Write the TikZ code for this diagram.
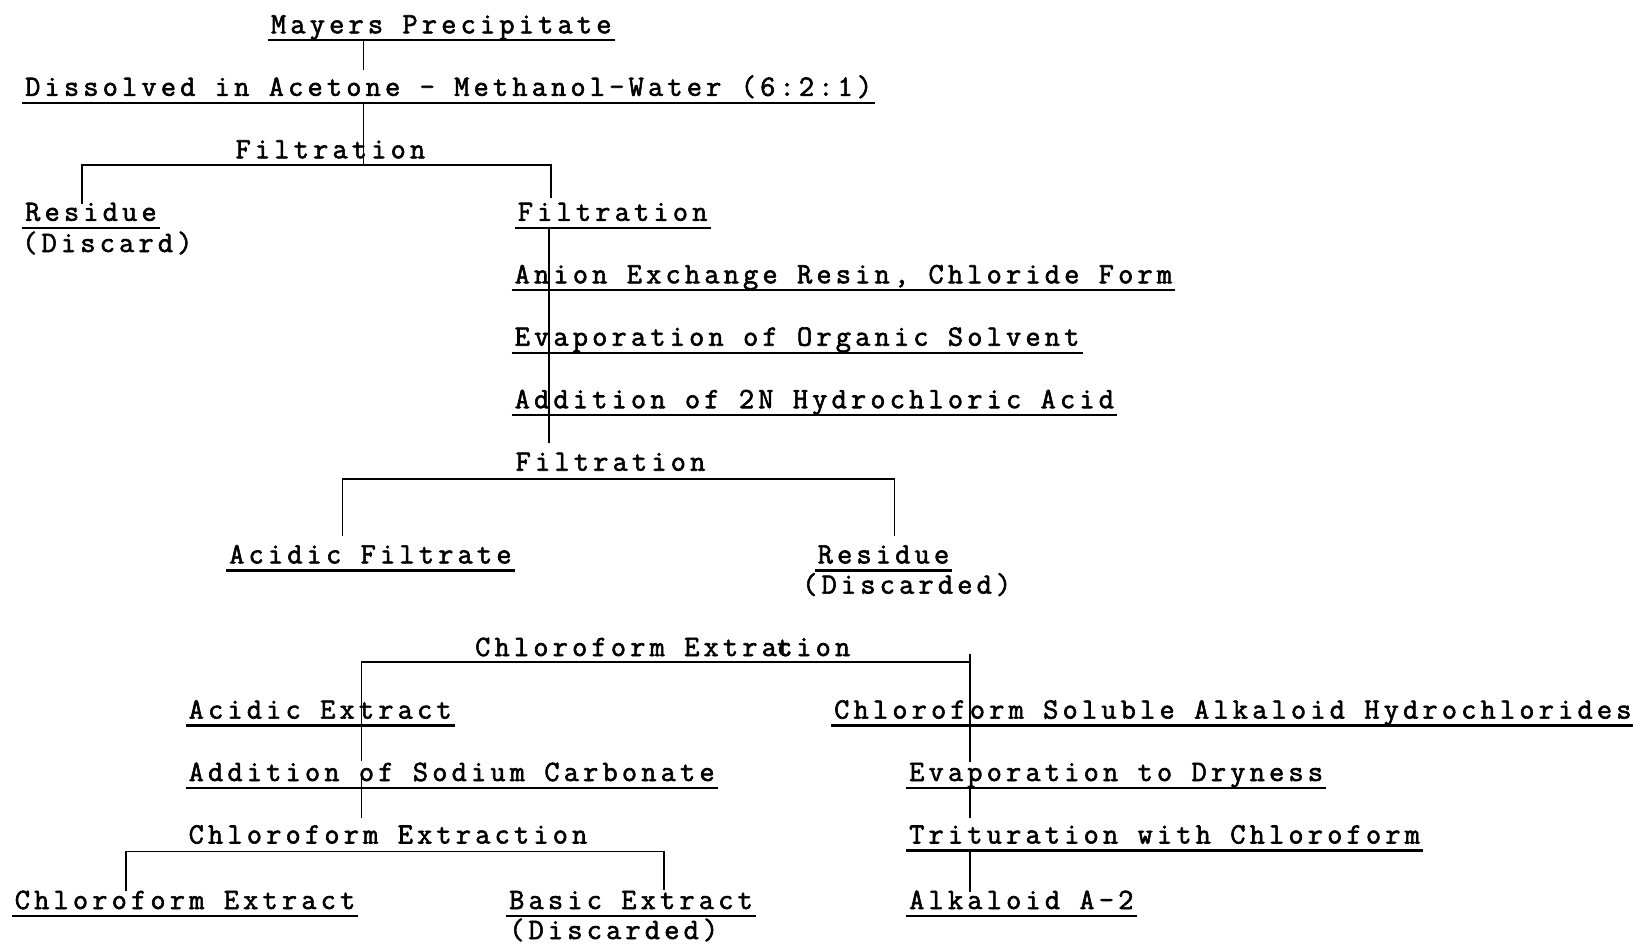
\documentclass[tikz,border=0pt]{standalone}
\usepackage{fontspec}
\setmonofont{Latin Modern Mono}[LetterSpace=14.2,FakeBold=2]
\usetikzlibrary{calc}
\newcommand\ulnode[1]{\draw[ul] ($(#1.base west)+(-3,-7)$) -- ($(#1.base east)+(3,-7)$);}
\begin{document}
\begin{tikzpicture}[x=1pt,y=1pt,
  txt/.style={anchor=base west, inner sep=0pt, font=\ttfamily\fontsize{29.5}{32}\selectfont},
  ul/.style={line width=2.3pt},
  ln/.style={line width=1.7pt}]
\useasboundingbox (0,0) rectangle (1633,-948);
% text nodes
\node[txt] (mayers) at (270.8,-33.3) {Mayers Precipitate};
\node[txt] (diss)   at (25,-95.8) {Dissolved in Acetone - Methanol-Water (6:2:1)};
\node[txt] (filtA)  at (235.4,-158.3) {Filtration};
\node[txt] (resA)   at (25,-220.8) {Residue};
\node[txt] (discA)  at (22,-252) {(Discard)};
\node[txt] (filtB)  at (517.6,-220.8) {Filtration};
\node[txt] (anion)  at (514.5,-283.3) {Anion Exchange Resin, Chloride Form};
\node[txt] (evapA)  at (514.5,-345.7) {Evaporation of Organic Solvent};
\node[txt] (addA)   at (514.5,-408.2) {Addition of 2N Hydrochloric Acid};
\node[txt] (filtC)  at (515.5,-470.7) {Filtration};
\node[txt] (acidF)  at (229,-563.4) {Acidic Filtrate};
\node[txt] (resB)   at (817.5,-563.4) {Residue};
\node[txt] (discB)  at (802,-593.6) {(Discarded)};
\node[txt] (cextA)  at (475,-656) {Chloroform Extra\rlap{c}tion};
\node[txt] (acidE)  at (188.5,-718.6) {Acidic Extract};
\node[txt] (csah)   at (834,-718.6) {Chloroform Soluble Alkaloid Hydrochlorides};
\node[txt] (addB)   at (188.5,-781) {Addition of Sodium Carbonate};
\node[txt] (evapB)  at (909,-781) {Evaporation to Dryness};
\node[txt] (cextB)  at (188.5,-843.5) {Chloroform Extraction};
\node[txt] (trit)   at (909,-843.5) {Trituration with Chloroform};
\node[txt] (cextr)  at (14.6,-909) {Chloroform Extract};
\node[txt] (basic)  at (509,-909) {Basic Extract};
\node[txt] (discC)  at (509,-939) {(Discarded)};
\node[txt] (alk)    at (909,-909) {Alkaloid A-2};
% underlines
\foreach \n in {mayers,diss,resA,filtB,anion,evapA,addA,acidF,resB,acidE,csah,addB,evapB,trit,cextr,basic,alk}{\ulnode{\n}}
% x positions of connectors
\coordinate (xa) at (363.4,0);
\coordinate (xl1) at (82.3,0);
\coordinate (xr1) at (551,0);
\coordinate (xb) at (548.8,0);
\coordinate (xl2) at (342.6,0);
\coordinate (xr2) at (894.6,0);
\coordinate (xl3) at (361.4,0);
\coordinate (xr3) at (970,0);
\coordinate (xl4) at (126,0);
\coordinate (xr4) at (664,0);
% connectors
\draw[ln] ($(mayers.base -| xa)+(0,-7)$) -- ($(diss.base -| xa)+(0,26)$);
\draw[ln] ($(diss.base -| xa)+(0,-7)$) -- ($(filtA.base -| xa)+(0,-6.5)$);
\draw[ln] ($(resA.base -| xl1)+(0,17)$) |- ($(filtA.base)+(0,-6.5)$) -| ($(filtB.base -| xr1)+(0,23)$);
\draw[ln] ($(filtB.base -| xb)+(0,-7)$) -- ($(filtC.base -| xb)+(0,28)$);
\draw[ln] ($(acidF.base -| xl2)+(0,27)$) |- ($(filtC.base)+(0,-8)$) -| ($(resB.base -| xr2)+(0,27)$);
\draw[ln] ($(addB.base -| xl3)+(0,20)$) |- ($(cextA.base -| xr3)+(0,-6)$);
\draw[ln] ($(cextA.base -| xr3)+(0,2)$) -- ($(evapB.base -| xr3)+(0,19)$);
\draw[ln] ($(addB.base -| xl3)+(0,4)$) -- ($(cextB.base -| xl3)+(0,26)$);
\draw[ln] ($(evapB.base -| xr3)+(0,-7)$) -- ($(trit.base -| xr3)+(0,26)$);
\draw[ln] ($(trit.base -| xr3)+(0,-7)$) -- ($(alk.base -| xr3)+(0,17)$);
\draw[ln] ($(cextr.base -| xl4)+(0,18)$) |- ($(cextB.base)+(0,-8)$) -| ($(basic.base -| xr4)+(0,19)$);
\end{tikzpicture}
\end{document}
